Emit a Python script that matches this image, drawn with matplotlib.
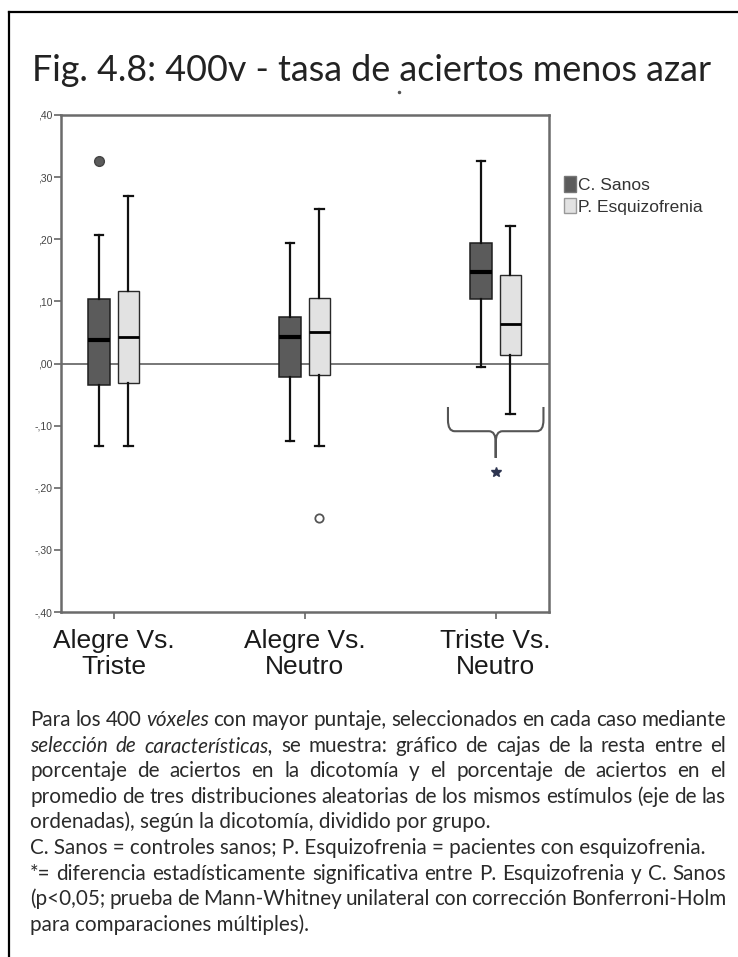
import numpy as np
import matplotlib.pyplot as plt
from matplotlib.patches import Patch, PathPatch
from matplotlib.path import Path
from matplotlib.lines import Line2D

# Data
categories = ["Alegre Vs.\nTriste", "Alegre Vs.\nNeutro", "Triste Vs.\nNeutro"]
groups = ["C. Sanos", "P. Esquizofrenia"]

sanos_whislo = [-0.132, -0.125, -0.006]
sanos_q1 = [-0.035, -0.021, 0.104]
sanos_med = [0.038, 0.042, 0.147]
sanos_q3 = [0.104, 0.075, 0.194]
sanos_whishi = [0.207, 0.194, 0.326]
sanos_fliers = [[0.326], [], []]

esq_whislo = [-0.132, -0.132, -0.082]
esq_q1 = [-0.032, -0.018, 0.014]
esq_med = [0.042, 0.050, 0.063]
esq_q3 = [0.116, 0.106, 0.143]
esq_whishi = [0.270, 0.249, 0.222]
esq_fliers = [[], [-0.249], []]

significant = [False, False, True]
star_y = -0.175

yticks = [-0.4, -0.3, -0.2, -0.1, 0.0, 0.1, 0.2, 0.3, 0.4]

title = "Fig. 4.8: 400v - tasa de aciertos menos azar"

# words starting with "_" are italic
caption = [
    ("Para los 400 _vóxeles con mayor puntaje, seleccionados en cada caso mediante", True),
    ("_selección _de _características, se muestra: gráfico de cajas de la resta entre el", True),
    ("porcentaje de aciertos en la dicotomía y el porcentaje de aciertos en el", True),
    ("promedio de tres distribuciones aleatorias de los mismos estímulos (eje de las", True),
    ("ordenadas), según la dicotomía, dividido por grupo.", False),
    ("C. Sanos = controles sanos; P. Esquizofrenia = pacientes con esquizofrenia.", False),
    ("*= diferencia estadísticamente significativa entre P. Esquizofrenia y C. Sanos", True),
    ("(p<0,05; prueba de Mann-Whitney unilateral con corrección Bonferroni-Holm", True),
    ("para comparaciones múltiples).", False),
]

W, H = 738, 957
DARK = '#5b5b5b'
LIGHT = '#e2e2e2'


def fx(px):
    return px / W


def fy(py):
    return 1 - py / H


fig = plt.figure(figsize=(W / 100, H / 100), dpi=100)
renderer = fig.canvas.get_renderer()

ax = fig.add_axes([fx(61), fy(612), (549 - 61) / W, (612 - 115) / H])

centers = np.arange(len(categories))
offset = 0.077
box_w = 0.113


def make_stats(lo, q1, med, q3, hi, fl):
    return [dict(whislo=a, q1=b, med=c, q3=d, whishi=e, fliers=f)
            for a, b, c, d, e, f in zip(lo, q1, med, q3, hi, fl)]


common = dict(widths=box_w, patch_artist=True, showfliers=True,
              whiskerprops=dict(color='#111111', lw=1.6),
              capprops=dict(color='#111111', lw=1.6),
              capwidths=0.047, manage_ticks=False)

ax.bxp(make_stats(sanos_whislo, sanos_q1, sanos_med, sanos_q3, sanos_whishi, sanos_fliers),
       positions=centers - offset,
       boxprops=dict(facecolor=DARK, edgecolor='#1e1e1e', lw=1.1),
       medianprops=dict(color='black', lw=3.0),
       flierprops=dict(marker='o', markerfacecolor=DARK, markeredgecolor='#444444',
                       markersize=7),
       **common)
ax.bxp(make_stats(esq_whislo, esq_q1, esq_med, esq_q3, esq_whishi, esq_fliers),
       positions=centers + offset,
       boxprops=dict(facecolor=LIGHT, edgecolor='#2a2a2a', lw=1.0),
       medianprops=dict(color='black', lw=2.0),
       flierprops=dict(marker='o', markerfacecolor='white', markeredgecolor='#555555',
                       markersize=6, markeredgewidth=1.3),
       **common)

ax.axhline(0, color='#777777', lw=1.4, zorder=0.5)

# brace + asterisk for significant comparisons
for cx, sig in zip(centers, significant):
    if not sig:
        continue
    hw, y_top, y_mid, y_tip = 0.25, -0.07, -0.109, -0.152
    rx, ry = 0.035, 0.018
    verts, codes = [], []
    for s in (-1, 1):
        verts += [(cx + s * hw, y_top), (cx + s * hw, y_mid + ry),
                  (cx + s * hw, y_mid), (cx + s * (hw - rx), y_mid),
                  (cx + s * rx, y_mid), (cx, y_mid), (cx, y_mid - ry),
                  (cx, y_tip)]
        codes += [Path.MOVETO, Path.LINETO, Path.CURVE3, Path.CURVE3,
                  Path.LINETO, Path.CURVE3, Path.CURVE3, Path.LINETO]
    ax.add_patch(PathPatch(Path(verts, codes), fill=False, edgecolor='#555555', lw=1.5))
    ax.plot(cx, star_y, marker='*', ms=7, color='#2e3550', clip_on=False)

ax.set_xlim(-0.276, 2.279)
ax.set_ylim(-0.4, 0.4)

ax.set_yticks(yticks)
ax.set_yticklabels([f"{v:.2f}".replace("0.", ",") for v in yticks],
                   fontsize=7.5, family='Liberation Sans', color='#444444')
ax.set_xticks(centers)
ax.set_xticklabels(categories, fontsize=19, family='Liberation Sans',
                   color='#1a1a1a', linespacing=1.1)
ax.tick_params(axis='y', direction='out', length=5, width=1.2, color='#666666', pad=1)
ax.tick_params(axis='x', direction='out', length=5, width=1.2, color='#666666', pad=7)
for sp in ax.spines.values():
    sp.set_color('#6b6b6b')
    sp.set_linewidth(1.8)

handles = [Patch(facecolor=DARK, edgecolor='#777777'),
           Patch(facecolor=LIGHT, edgecolor='#999999')]
leg = fig.legend(handles, groups, loc='upper left', bbox_to_anchor=(fx(564), fy(176)),
                 frameon=False, prop={'family': 'Liberation Sans', 'size': 12.5},
                 handlelength=0.7, handleheight=1.0, handletextpad=0.1,
                 labelspacing=0.3, borderaxespad=0, borderpad=0)
for t in leg.get_texts():
    t.set_color('#333333')


def text_width(s, **kw):
    t = fig.text(0, 0, s, **kw)
    w = t.get_window_extent(renderer).width
    t.remove()
    return w


# title sized to span the same width as in the reference
base = text_width(title, fontsize=20, family='Lato')
fig.text(fx(32), fy(81), title, fontsize=20 * 680 / base, family='Lato',
         color='#222222', ha='left', va='baseline')
# stray speck under the title in the scan
fig.add_artist(Line2D([fx(399)], [fy(92)], marker='o', ms=1.5, color='#555555', lw=0))

# caption, justified like the original
plain6 = caption[5][0].replace("_", "")
cap_size = 11 * 673 / text_width(plain6, fontsize=11, family='Lato')
x0, x1 = 30, 726
for i, (line, justify) in enumerate(caption):
    yb = 726 + 25.6 * i
    if not justify and "_" not in line:
        fig.text(fx(x0), fy(yb), line, fontsize=cap_size, family='Lato',
                 color='#2a2a2a', ha='left', va='baseline')
        continue
    words = []
    for w in line.split(" "):
        style = 'italic' if w.startswith("_") else 'normal'
        words.append((w.lstrip("_"), style))
    widths = [text_width(w, fontsize=cap_size, family='Lato', style=st) for w, st in words]
    gap = (x1 - x0 - sum(widths)) / (len(words) - 1)
    x = x0
    for (w, st), wd in zip(words, widths):
        fig.text(fx(x), fy(yb), w, fontsize=cap_size, family='Lato', style=st,
                 color='#2a2a2a', ha='left', va='baseline')
        x += wd + gap

# frame (only the top and left edges are visible in the reference)
fig.add_artist(Line2D([fx(9), fx(9)], [fy(12), 0], color='black', lw=1.6))
fig.add_artist(Line2D([fx(9), 1], [fy(12), fy(12)], color='black', lw=1.6))

fig.savefig("out.png", dpi=100)
